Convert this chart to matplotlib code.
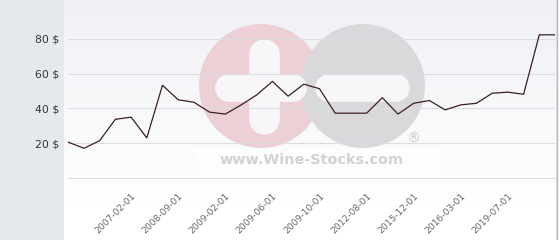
import numpy as np
import matplotlib
matplotlib.use("Agg")
import matplotlib.pyplot as plt
from matplotlib.patches import Circle, Rectangle

# ---- data ----
values = [20.6, 17.1, 21.5, 33.8, 35.0, 23.1, 53.4, 45.0, 43.6, 37.9, 36.8,
          42.0, 47.8, 55.6, 47.1, 54.0, 51.4, 37.3, 37.3, 37.3, 46.2, 36.8,
          43.0, 44.6, 39.2, 42.1, 43.0, 48.8, 49.4, 48.2, 82.4, 82.4]
tick_labels = ["2007-02-01", "2008-09-01", "2009-02-01", "2009-06-01",
               "2009-10-01", "2012-08-01", "2015-12-01", "2016-03-01",
               "2019-07-01"]
tick_index = [4, 7, 10, 13, 16, 19, 22, 25, 28]
y_ticks = [0, 20, 40, 60, 80]
y_labels = ["", "20 $", "40 $", "60 $", "80 $"]

W, H = 560, 240
fig = plt.figure(figsize=(W / 100, H / 100), dpi=100)
fig.patch.set_facecolor("#e6e9ec")

# background gradient panel
bg = fig.add_axes([64 / W, 0, (556 - 64) / W, 1], zorder=0)
grad = np.linspace(0, 1, 256)[:, None]
top = np.array([0.937, 0.945, 0.960])
bot = np.array([1.0, 1.0, 1.0])
t = np.clip(grad / 0.85, 0, 1)
img = top[None, None, :] * (1 - t[..., None]) + bot[None, None, :] * t[..., None]
bg.imshow(img, aspect="auto", extent=[0, 1, 0, 1], origin="upper")
bg.set_axis_off()

# border line on the right
fig.add_artist(plt.Line2D([556.5 / W, 556.5 / W], [0, 1], color="#b8b8b8",
                          lw=1.0, transform=fig.transFigure))
fig.add_artist(Rectangle((557 / W, 0), 3 / W, 1, transform=fig.transFigure,
                         facecolor="white", edgecolor="none"))

# watermark layer in pixel coordinates
wm = fig.add_axes([0, 0, 1, 1], zorder=1)
wm.set_xlim(0, W)
wm.set_ylim(H, 0)
wm.set_axis_off()
wm.patch.set_alpha(0)
wm.add_patch(Rectangle((197, 150), 243, 26, facecolor="white",
                       edgecolor="none", alpha=0.55))
wm.add_patch(Circle((261, 86), 62, facecolor="#ecd0d6", edgecolor="none"))
wm.add_patch(Circle((363, 86), 62, facecolor="#d9d9db", edgecolor="none"))
bar = "#f7f7f9"
wm.plot([264, 264], [53.5, 119], color=bar, lw=22, solid_capstyle="round")
wm.plot([229, 293], [88.3, 88.3], color=bar, lw=20, solid_capstyle="round")
wm.plot([329, 396], [88.3, 88.3], color=bar, lw=20, solid_capstyle="round")
wm.text(311.7, 160.5, "www.Wine-Stocks.com", ha="center", va="center",
        fontsize=10.4, fontweight="bold", color="#d2d2d4")
wm.text(413, 139, "®", ha="center", va="center", fontsize=10,
        color="#d0d0d2")

# data axes
x0, x1 = 68.3, 555
y0 = 178
px_per_unit = (178 - 39) / 80
ymax = 100
ax = fig.add_axes([x0 / W, (H - y0) / H, (x1 - x0) / W,
                   ymax * px_per_unit / H], zorder=2)
ax.patch.set_alpha(0)
x = np.arange(len(values))
ax.plot(x, values, color="#3b1d27", lw=0.9)
ax.set_xlim(0, len(values) - 1)
ax.set_ylim(0, ymax)
ax.set_yticks(y_ticks)
ax.set_yticklabels(y_labels, fontsize=7.8, color="#333333")
ax.yaxis.grid(True, color="#dcdde2", lw=0.8)
ax.axhline(0, color="#dcdde2", lw=0.8, clip_on=False, zorder=0.5)
ax.set_axisbelow(True)
ax.tick_params(axis="y", length=0, pad=6.5)
ax.set_xticks(tick_index)
ax.set_xticklabels(tick_labels, rotation=45, ha="right",
                   rotation_mode="anchor", fontsize=6.6, color="#666666")
ax.tick_params(axis="x", length=0, pad=9.5)
for s in ax.spines.values():
    s.set_visible(False)

fig.savefig("out.png", dpi=100)
